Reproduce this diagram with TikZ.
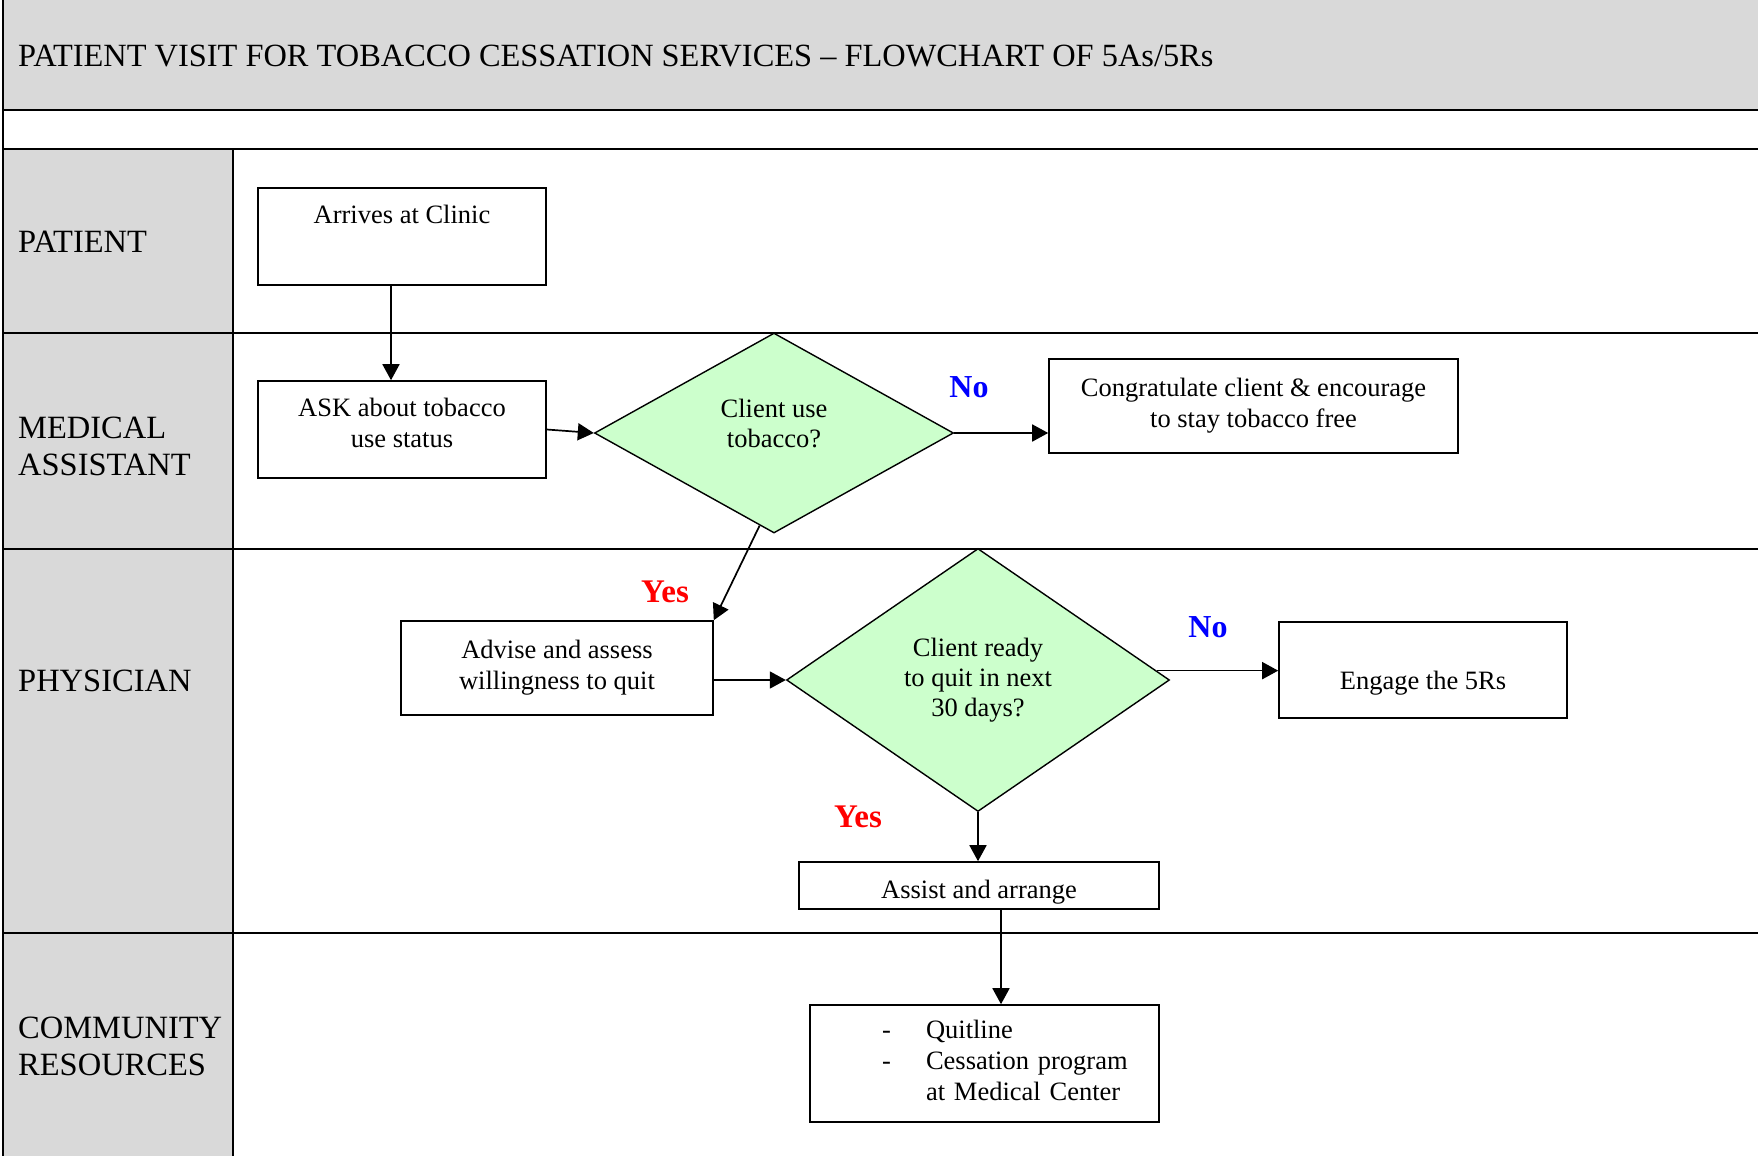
\documentclass[tikz,border=0pt]{standalone}
\usepackage{fontspec}
\setmainfont{Liberation Serif}
\usetikzlibrary{shapes.geometric,arrows.meta,calc}
\definecolor{lanegray}{HTML}{D9D9D9}
\definecolor{decgreen}{HTML}{CCFFCC}
\definecolor{yesred}{HTML}{FF0000}
\definecolor{noblue}{HTML}{0000FF}
\tikzset{
  gridline/.style={line width=2pt,black},
  box/.style={draw,line width=1.6pt,rectangle,inner sep=0pt,align=center,font=\fontsize{26.5}{31}\selectfont},
  decision/.style={draw,line width=1.4pt,diamond,fill=decgreen,inner sep=0pt,align=center,font=\fontsize{26.5}{30}\selectfont},
  lanelabel/.style={anchor=west,align=left,inner sep=0pt,font=\fontsize{32.5}{37}\selectfont},
  flow/.style={line width=1.7pt,-{Triangle[length=16pt,width=17pt]}},
  yeslab/.style={text=yesred,font=\fontsize{33}{33}\selectfont\bfseries,inner sep=0pt},
  nolab/.style={text=noblue,font=\fontsize{32}{32}\selectfont\bfseries,inner sep=0pt}
}
\begin{document}
\begin{tikzpicture}[x=1pt,y=-1pt]
\useasboundingbox (0,0) rectangle (1758,1156);
% backgrounds
\fill[lanegray] (3,0) rectangle (1758,110);
\fill[lanegray] (3,149) rectangle (233,1156);
% grid
\draw[gridline] (3,0) -- (3,1156);
\draw[gridline] (3,110) -- (1758,110);
\draw[gridline] (3,149) -- (1758,149);
\draw[gridline] (3,333) -- (1758,333);
\draw[gridline] (3,549) -- (1758,549);
\draw[gridline] (3,933) -- (1758,933);
\draw[gridline] (233,149) -- (233,1156);
% title
\node[anchor=west,inner sep=0pt,font=\fontsize{32.4}{32}\selectfont] (title) at (18,56) {PATIENT VISIT FOR TOBACCO CESSATION SERVICES -- FLOWCHART OF 5As/5Rs};
% lane labels
\node[lanelabel] (lpat) at (18,242) {PATIENT};
\node[lanelabel] (lma) at (18,446) {MEDICAL\\ASSISTANT};
\node[lanelabel] (lphy) at (18,681) {PHYSICIAN};
\node[lanelabel] (lcom) at (18,1046) {COMMUNITY\\RESOURCES};
% boxes
\node[box,minimum width=288pt,text height=35pt,text depth=62pt] (arr) at (402,236.5) {Arrives at Clinic};
\node[box,minimum width=288pt,minimum height=97pt] (ask) at (402,429.5) {ASK about tobacco\\use status\rule[-14pt]{0pt}{0pt}};
\node[decision,minimum width=359pt,minimum height=200pt] (d1) at (774,433) {Client use\\tobacco?\rule[-20pt]{0pt}{0pt}};
\node[box,minimum width=409pt,minimum height=94pt] (cong) at (1253.5,406) {Congratulate client \& encourage\\to stay tobacco free};
\node[box,minimum width=312pt,minimum height=94pt] (adv) at (557,668) {Advise and assess\\willingness to quit};
\node[decision,minimum width=383pt,minimum height=263pt] (d2) at (978,680) {Client ready\\to quit in next\\30 days?};
\node[box,minimum width=288pt,text height=67pt,text depth=29pt] (eng) at (1423,670) {Engage the 5Rs};
\node[box,minimum width=360pt,text height=36pt,text depth=11pt] (asst) at (979,885.5) {Assist and arrange};
\node[box,minimum width=349pt,minimum height=117pt,text width=349pt,align=left] (comm) at (984.5,1063.5)
  {\hspace*{72pt}\begin{tabular}{@{}p{44pt}@{}l@{}}-&Quitline\\-&Cessation program\\&at Medical Center\end{tabular}};
% connectors
\draw[flow] ([xshift=-11pt]arr.south) -- ([xshift=-11pt]ask.north);
\draw[flow] (ask.east) -- (d1.west);
\draw[flow] (d1.east) -- (d1.east -| cong.west);
\draw[flow] ($(d1.south)!0.08!(d1.west)$) -- (adv.north east);
\draw[flow] (adv.east |- d2.west) -- (d2.west);
\draw[flow] (d2.3) -- (d2.3 -| eng.west);
\draw[flow] (d2.south) -- (d2.south |- asst.north);
\draw[flow] ([xshift=22pt]asst.south) -- ([xshift=22pt]asst.south |- comm.north);
% branch labels
\node[nolab] (no1) at (969,387) {No};
\node[yeslab] (yes1) at (665,592) {Yes};
\node[nolab] (no2) at (1208,627) {No};
\node[yeslab] (yes2) at (858,817) {Yes};
\end{tikzpicture}
\end{document}
